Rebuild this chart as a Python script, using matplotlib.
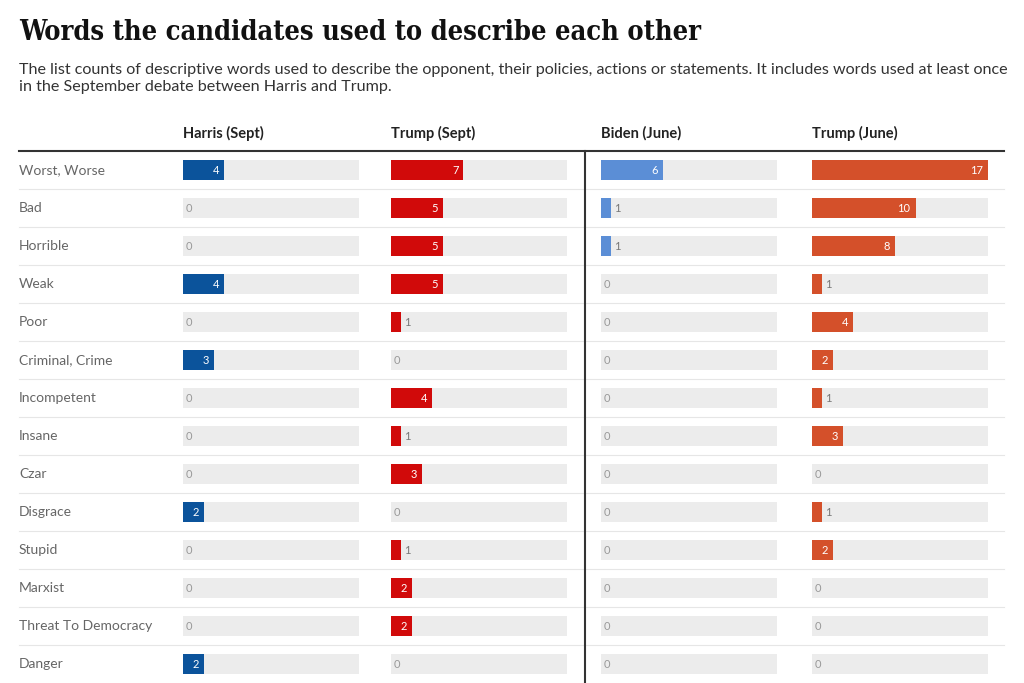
import matplotlib
matplotlib.use("Agg")
import matplotlib.pyplot as plt
from matplotlib.patches import Rectangle

words = ["Worst, Worse", "Bad", "Horrible", "Weak", "Poor", "Criminal, Crime", "Incompetent",
         "Insane", "Czar", "Disgrace", "Stupid", "Marxist", "Threat To Democracy", "Danger"]
series_names = ["Harris (Sept)", "Trump (Sept)", "Biden (June)", "Trump (June)"]
harris_sept = [4, 0, 0, 4, 0, 3, 0, 0, 0, 2, 0, 0, 0, 2]
trump_sept = [7, 5, 5, 5, 1, 0, 4, 1, 3, 0, 1, 2, 2, 0]
biden_june = [6, 1, 1, 0, 0, 0, 0, 0, 0, 0, 0, 0, 0, 0]
trump_june = [17, 10, 8, 1, 4, 2, 1, 3, 0, 1, 2, 0, 0, 0]
colors = ["#0b539b", "#d10a0a", "#5b8ed6", "#d4502a"]
maxval = 17

W, H = 1024, 683
fig = plt.figure(figsize=(W/100, H/100), dpi=100)
ax = fig.add_axes([0, 0, 1, 1])
ax.set_xlim(0, W); ax.set_ylim(H, 0); ax.axis("off")

fig.text(19/W, 1-32/H, "Words the candidates used to describe each other", fontsize=23,
         fontweight="bold", family="DejaVu Serif", va="center", color="#111",
         fontstretch="condensed").set_fontsize(19.5)
fig.text(19/W, 1-70/H, "The list counts of descriptive words used to describe the opponent, their policies, actions or statements. It includes words used at least once",
         fontsize=11.6, color="#333", va="center", family="Lato")
fig.text(19/W, 1-87/H, "in the September debate between Harris and Trump.",
         fontsize=11.6, color="#333", va="center", family="Lato")

xs = [183, 391, 601, 812]
bgw = 176
scale = 176 / maxval
row0, dy, bh = 170, 38, 20
data = [harris_sept, trump_sept, biden_june, trump_june]

for x, name in zip(xs, series_names):
    ax.text(x, 133, name, fontsize=10.5, fontweight="bold", va="center", family="Lato", color="#222")
ax.plot([19, 1004], [151, 151], color="#333", lw=1.5)
ax.plot([585, 585], [151, H], color="#333", lw=1.5)

for i, w in enumerate(words):
    y = row0 + i*dy
    ax.text(19, y, w, fontsize=10, va="center", color="#666", family="Lato")
    if i > 0:
        ax.plot([19, 1004], [y-dy/2, y-dy/2], color="#e6e6e6", lw=0.8, zorder=0)
    for x, vals, c in zip(xs, data, colors):
        v = vals[i]
        ax.add_patch(Rectangle((x, y-bh/2), bgw, bh, color="#ececec", lw=0))
        bw = v*scale
        if v > 0:
            ax.add_patch(Rectangle((x, y-bh/2), bw, bh, color=c, lw=0))
        if v >= 2:
            ax.text(x+bw-5, y, str(v), ha="right", va="center", fontsize=8, color="white", family="Lato")
        elif v == 1:
            ax.text(x+bw+3, y, "1", ha="left", va="center", fontsize=8, color="#777", family="Lato")
        else:
            ax.text(x+3, y, "0", ha="left", va="center", fontsize=8, color="#999", family="Lato")

fig.savefig("out.png", dpi=100)
